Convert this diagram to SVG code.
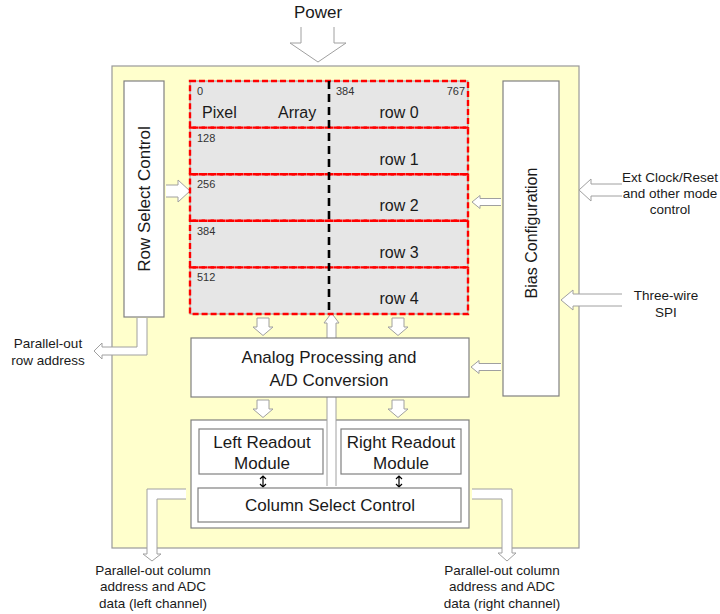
<svg xmlns="http://www.w3.org/2000/svg" width="720" height="614" viewBox="0 0 720 614">
<style>
text{font-family:"Liberation Sans",Arial,sans-serif;fill:#1a1a1a}
.t17{font-size:17px;text-anchor:middle}
.t16{font-size:16px}
.t13{font-size:13.5px;text-anchor:middle}
.num{font-size:11px;fill:#333}
.box{fill:#fff;stroke:#808080;stroke-width:1.2}
.blk{fill:#fff;stroke:#a0a0a0;stroke-width:1}
.red{fill:none;stroke:#ff0000;stroke-width:2.4;stroke-dasharray:6 3}
.dbl{fill:none;stroke:#000;stroke-width:1.2}
</style>
<rect width="720" height="614" fill="#fff"/>
<g id="chip"><rect x="112" y="66" width="467" height="482" fill="#ffffcc" stroke="#999" stroke-width="1.2"/></g>
<g id="power"><text class="t17" x="318" y="18">Power</text></g>
<g id="row-select"><rect class="box" x="124" y="81" width="40" height="236"/><text class="t17" transform="translate(150,199) rotate(-90)">Row Select Control</text></g>
<g id="bias"><rect class="box" x="503" y="81" width="56" height="315"/><text class="t17" style="font-size:16px" transform="translate(537,233) rotate(-90)">Bias Configuration</text></g>
<g id="bottom-block"><rect class="box" x="191" y="420" width="278" height="108"/></g>
<g id="connectors">
<path class="blk" d="M301,27 L301,43 L290,43 L318,62 L346,43 L334,43 L334,27"/>
<path class="blk" d="M622,184 L591,184 L591,179 L579,190 L591,201 L591,196 L622,196"/>
<path class="blk" d="M622,294 L573,294 L573,290 L561,300 L573,310 L573,306 L622,306"/>
<path class="blk" d="M501,198.5 L480,198.5 L480,195.5 L472,202 L480,208.5 L480,205.5 L501,205.5"/>
<path class="blk" d="M501,363.5 L479,363.5 L479,360.5 L471,367 L479,373.5 L479,370.5 L501,370.5"/>
<path class="blk" d="M166,185 L178,185 L178,180 L190,191 L178,202 L178,197 L166,197"/>
<path class="blk" d="M257,318 L257,327 L253,327 L263,335.5 L273,327 L269,327 L269,318 Z"/>
<path class="blk" d="M392,318 L392,327 L388,327 L398,335.5 L408,327 L404,327 L404,318 Z"/>
<path class="blk" d="M257,400 L257,409 L253,409 L263,417.5 L273,409 L269,409 L269,400 Z"/>
<path class="blk" d="M392,400 L392,409 L388,409 L398,417.5 L408,409 L404,409 L404,400 Z"/>
<path class="blk" d="M137,318 L137,347 L102,347 L102,343 L94,351 L102,359 L102,355 L147,355 L147,318"/>
<path class="blk" d="M186,489 L147,489 L147,554 L143,554 L152,561 L161,554 L157,554 L157,499 L186,499"/>
<path class="blk" d="M472,489 L512,489 L512,553 L516,553 L507,561 L498,553 L502,553 L502,499 L472,499"/>
<path class="blk" d="M327,486 L327,323 L324,323 L331.5,313 L339,323 L336,323 L336,486"/>
<path class="dbl" d="M263,476 L263,487 M260,479 L263,476 L266,479 M260,484 L263,487 L266,484"/>
<path class="dbl" d="M399,476 L399,487 M396,479 L399,476 L402,479 M396,484 L399,487 L402,484"/>
</g>
<g id="pixel-array">
<rect x="190" y="81" width="278" height="233" fill="#e6e6e6" stroke="#999" stroke-width="1"/>
<rect class="red" x="190" y="81" width="278" height="46.6"/>
<rect class="red" x="190" y="127.6" width="278" height="46.6"/>
<rect class="red" x="190" y="174.2" width="278" height="46.6"/>
<rect class="red" x="190" y="220.8" width="278" height="46.6"/>
<rect class="red" x="190" y="267.4" width="278" height="46.6"/>
<line x1="329" y1="81" x2="329" y2="314" stroke="#000" stroke-width="2.6" stroke-dasharray="8 5"/>
<text class="num" x="197" y="95">0</text>
<text class="num" x="336" y="95">384</text>
<text class="num" x="465" y="95" text-anchor="end">767</text>
<text class="num" x="197" y="141.6">128</text>
<text class="num" x="197" y="188.2">256</text>
<text class="num" x="197" y="234.8">384</text>
<text class="num" x="197" y="281.4">512</text>
<text class="t16" x="202" y="118">Pixel</text>
<text class="t16" x="278" y="118">Array</text>
<text class="t16" x="399" y="118" text-anchor="middle">row 0</text>
<text class="t16" x="399" y="164.6" text-anchor="middle">row 1</text>
<text class="t16" x="399" y="211.2" text-anchor="middle">row 2</text>
<text class="t16" x="399" y="257.8" text-anchor="middle">row 3</text>
<text class="t16" x="399" y="304.4" text-anchor="middle">row 4</text>
</g>
<g id="analog"><rect class="box" x="191" y="338" width="278" height="59"/><text class="t17" x="329" y="363">Analog Processing and</text><text class="t17" x="329" y="386">A/D Conversion</text></g>
<g id="left-readout"><rect class="box" x="199" y="429" width="124" height="45"/><text class="t17" x="262" y="448">Left Readout</text><text class="t17" x="262" y="469">Module</text></g>
<g id="right-readout"><rect class="box" x="341" y="429" width="120" height="45"/><text class="t17" x="401" y="448">Right Readout</text><text class="t17" x="401" y="469">Module</text></g>
<g id="column-select"><rect class="box" x="198" y="488" width="263" height="34"/><text class="t17" x="330" y="511">Column Select Control</text></g>
<g id="labels">
<text class="t13" x="48" y="348">Parallel-out</text>
<text class="t13" x="48" y="365">row address</text>
<text class="t13" x="670" y="182">Ext Clock/Reset</text>
<text class="t13" x="670" y="198">and other mode</text>
<text class="t13" x="670" y="214">control</text>
<text class="t13" x="666" y="300">Three-wire</text>
<text class="t13" x="666" y="317">SPI</text>
<text class="t13" x="153" y="575">Parallel-out column</text>
<text class="t13" x="153" y="591">address and ADC</text>
<text class="t13" x="153" y="608">data (left channel)</text>
<text class="t13" x="502" y="575">Parallel-out column</text>
<text class="t13" x="502" y="591">address and ADC</text>
<text class="t13" x="502" y="608">data (right channel)</text>
</g>
</svg>
